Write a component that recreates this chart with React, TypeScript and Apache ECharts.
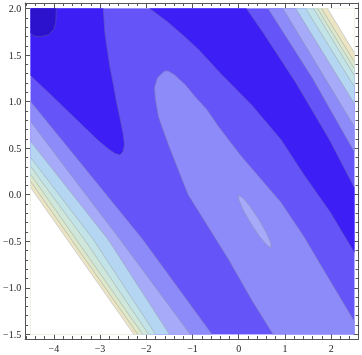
import React, { useEffect, useRef } from 'react';
import * as echarts from 'echarts';

type P = [number, number];

// axis ranges (frame) and tick values
const X_MIN = -4.62, X_MAX = 2.59, Y_MIN = -1.55, Y_MAX = 2.06;
const xMajorTicks = [-4, -3, -2, -1, 0, 1, 2];
const xMinorTicks = [-4.6, -4.4, -4.2, -3.8, -3.6, -3.4, -3.2, -2.8, -2.6, -2.4, -2.2, -1.8, -1.6, -1.4, -1.2, -0.8, -0.6, -0.4, -0.2, 0.2, 0.4, 0.6, 0.8, 1.2, 1.4, 1.6, 1.8, 2.2, 2.4];
const yMajorTicks = [-1.5, -1, -0.5, 0, 0.5, 1, 1.5, 2];
const yMinorTicks = [-1.4, -1.3, -1.2, -1.1, -0.9, -0.8, -0.7, -0.6, -0.4, -0.3, -0.2, -0.1, 0.1, 0.2, 0.3, 0.4, 0.6, 0.7, 0.8, 0.9, 1.1, 1.2, 1.3, 1.4, 1.6, 1.7, 1.8, 1.9];

// contour level colours, low -> high
const levelColors = ['#2c12cc', '#3d1ff5', '#6554f7', '#8d8af9', '#a7aaf8', '#b4d6f3', '#c2e3e8', '#cfe7da', '#dde7ca', '#ece5c3', '#ffffff'];

// plot region
const plotRect: P[] = [[-4.5, -1.5], [2.5, -1.5], [2.5, 2.0], [-4.5, 2.0]];

// contour lines
const tongueEdge: P[] = [[-2.93, 2.0], [-2.895, 1.74], [-2.788, 1.376], [-2.718, 1.204], [-2.654, 1.021], [-2.575, 0.839], [-2.504, 0.667], [-2.472, 0.539], [-2.504, 0.464], [-2.568, 0.426], [-2.675, 0.442], [-2.803, 0.485], [-3.038, 0.582], [-3.573, 0.839], [-4.043, 1.064], [-4.5, 1.279]];
const blobEdge: P[] = [[-3.947, 2.0], [-3.957, 1.85], [-4.0, 1.775], [-4.107, 1.72], [-4.278, 1.697], [-4.428, 1.705], [-4.5, 1.735]];
const darkBandRightEdge: P[] = [[0.167, 2.0], [0.53, 1.74], [1.235, 1.204], [1.962, 0.592], [2.5, 0.077]];
const darkBandLeftEdge: P[] = [[2.5, -0.62], [1.983, -0.191], [1.406, 0.217], [0.915, 0.592], [0.274, 0.968], [-0.368, 1.29], [-0.865, 1.558], [-1.218, 1.719], [-1.543, 1.858], [-1.927, 2.0]];
const ellipseLeftEdge: P[] = [[-1.567, 1.33], [-1.613, 1.325], [-1.756, 1.258], [-1.821, 1.15], [-1.799, 1.021], [-1.735, 0.839], [-1.613, 0.667], [-1.479, 0.485], [-1.308, 0.27], [-1.094, 0.002], [-0.731, -0.288], [-0.218, -0.695], [0.274, -1.124], [0.744, -1.5]];
const ellipseRightEdge: P[] = [[-1.567, 1.33], [-1.521, 1.327], [-1.393, 1.29], [-1.158, 1.182], [-0.944, 1.054], [-0.688, 0.914], [-0.438, 0.732], [-0.175, 0.56], [0.06, 0.41], [0.487, 0.163], [0.915, -0.084], [1.406, -0.449], [1.919, -0.878], [2.346, -1.232], [2.5, -1.361]];
const centerEllipse: P[] = [[0.701, -0.569], [0.694, -0.518], [0.594, -0.407], [0.429, -0.262], [0.241, -0.124], [0.083, -0.031], [-0.004, -0.006], [0.002, -0.057], [0.101, -0.168], [0.267, -0.313], [0.454, -0.451], [0.613, -0.544]];

// lower-left bands: each from the left edge to the bottom edge
const lowerLeftLines: P[][] = [
  [[-4.5, 0.999], [-3.359, 0.303], [-2.077, -0.481], [-0.581, -1.5]],
  [[-4.5, 0.785], [-3.573, 0.174], [-2.568, -0.481], [-1.051, -1.5]],
  [[-4.5, 0.571], [-2.825, -0.481], [-1.5, -1.5]],
  [[-4.5, 0.399], [-3.145, -0.481], [-1.799, -1.5]],
  [[-4.5, 0.303], [-3.338, -0.481], [-1.949, -1.5]],
  [[-4.5, 0.217], [-2.077, -1.5]],
  [[-4.5, 0.142], [-2.184, -1.5]],
  [[-4.5, 0.077], [-2.269, -1.5]],
];
// upper-right bands: each from the top edge to the right edge
const upperRightLines: P[][] = [
  [[0.637, 2.0], [1.6, 1.25], [2.5, 0.461]],
  [[0.957, 2.0], [2.5, 0.732]],
  [[1.235, 2.0], [2.5, 0.979]],
  [[1.449, 2.0], [2.5, 1.161]],
  [[1.62, 2.0], [2.5, 1.279]],
  [[1.705, 2.0], [2.5, 1.354]],
  [[1.791, 2.0], [2.5, 1.429]],
  [[1.919, 2.0], [2.5, 1.526]],
];
const bandLevels = [3, 4, 5, 6, 7, 8, 9, 10];

export default function App() {
  const ref = useRef<HTMLDivElement>(null);
  useEffect(() => {
    if (!ref.current) return;
    const chart = echarts.init(ref.current, null, { renderer: 'svg' });

    const fills: { pts: P[]; color: string }[] = [];
    fills.push({ pts: plotRect, color: levelColors[2] });
    fills.push({ pts: [[-4.5, 2.0], ...tongueEdge], color: levelColors[1] });
    fills.push({ pts: [[-4.5, 2.0], ...blobEdge], color: levelColors[0] });
    fills.push({ pts: [...darkBandRightEdge, ...darkBandLeftEdge], color: levelColors[1] });
    fills.push({ pts: [...ellipseLeftEdge, [2.5, -1.5], ...ellipseRightEdge.slice().reverse()], color: levelColors[3] });
    fills.push({ pts: centerEllipse, color: levelColors[4] });
    lowerLeftLines.forEach((l, i) => fills.push({ pts: [[-4.5, -1.5], ...l], color: levelColors[bandLevels[i]] }));
    upperRightLines.forEach((l, i) => fills.push({ pts: [[2.5, 2.0], ...l], color: levelColors[bandLevels[i]] }));

    const lines: P[][] = [tongueEdge, blobEdge, darkBandRightEdge, darkBandLeftEdge, ellipseLeftEdge, ellipseRightEdge, [...centerEllipse, centerEllipse[0]], ...lowerLeftLines, ...upperRightLines];

    const frame = '#555';
    const labelStyle = { fontFamily: 'Liberation Serif', fontSize: 10, color: '#222' };
    const fmt = (v: number, d: number) => v.toFixed(d).replace('-', '\u2212');

    const lineOn = { show: true, onZero: false, lineStyle: { color: frame, width: 1 } };
    const lineOff = { show: false, onZero: false };
    const xAxisBase = { type: 'value', min: X_MIN, max: X_MAX, splitLine: { show: false }, axisPointer: { show: false } };
    const yAxisBase = { type: 'value', min: Y_MIN, max: Y_MAX, splitLine: { show: false }, axisPointer: { show: false } };
    const major = (vals: number[]) => ({ show: true, inside: true, length: 5, customValues: vals, lineStyle: { color: frame } });
    const minor = (vals: number[]) => ({ show: true, inside: true, length: 3, customValues: vals, lineStyle: { color: frame } });

    chart.setOption({
      animation: false,
      grid: { left: 21, right: 3.5, top: 3, bottom: 16 },
      xAxis: [
        { ...xAxisBase, position: 'bottom', axisLine: lineOn, axisTick: major(xMajorTicks), axisLabel: { show: true, customValues: xMajorTicks, margin: 4, formatter: (v: number) => fmt(v, 0), ...labelStyle } },
        { ...xAxisBase, position: 'bottom', axisLine: lineOff, axisTick: minor(xMinorTicks), axisLabel: { show: false } },
        { ...xAxisBase, position: 'top', axisLine: lineOn, axisTick: major(xMajorTicks), axisLabel: { show: false } },
        { ...xAxisBase, position: 'top', axisLine: lineOff, axisTick: minor(xMinorTicks), axisLabel: { show: false } },
      ],
      yAxis: [
        { ...yAxisBase, position: 'left', axisLine: lineOn, axisTick: major(yMajorTicks), axisLabel: { show: true, customValues: yMajorTicks, margin: 4, formatter: (v: number) => fmt(v, 1), ...labelStyle } },
        { ...yAxisBase, position: 'left', axisLine: lineOff, axisTick: minor(yMinorTicks), axisLabel: { show: false } },
        { ...yAxisBase, position: 'right', axisLine: lineOn, axisTick: major(yMajorTicks), axisLabel: { show: false } },
        { ...yAxisBase, position: 'right', axisLine: lineOff, axisTick: minor(yMinorTicks), axisLabel: { show: false } },
      ],
      series: [
        {
          type: 'custom',
          xAxisIndex: 0,
          yAxisIndex: 0,
          silent: true,
          data: fills.map((f) => f.pts[0]),
          renderItem: (params: any, api: any) => {
            const f = fills[params.dataIndex];
            return { type: 'polygon', shape: { points: f.pts.map((p) => api.coord(p)) }, style: { fill: f.color, stroke: f.color, lineWidth: 0.3 } };
          },
        },
        {
          type: 'custom',
          xAxisIndex: 0,
          yAxisIndex: 0,
          silent: true,
          data: lines.map((l) => l[0]),
          renderItem: (params: any, api: any) => {
            const l = lines[params.dataIndex];
            return { type: 'polyline', shape: { points: l.map((p) => api.coord(p)) }, style: { fill: 'none', stroke: 'rgba(130,130,140,0.5)', lineWidth: 0.7 } };
          },
        },
      ],
    });
    return () => chart.dispose();
  }, []);
  return <div ref={ref} style={{ position: 'fixed', left: 0, top: 0, width: 362, height: 355 }} />;
}
